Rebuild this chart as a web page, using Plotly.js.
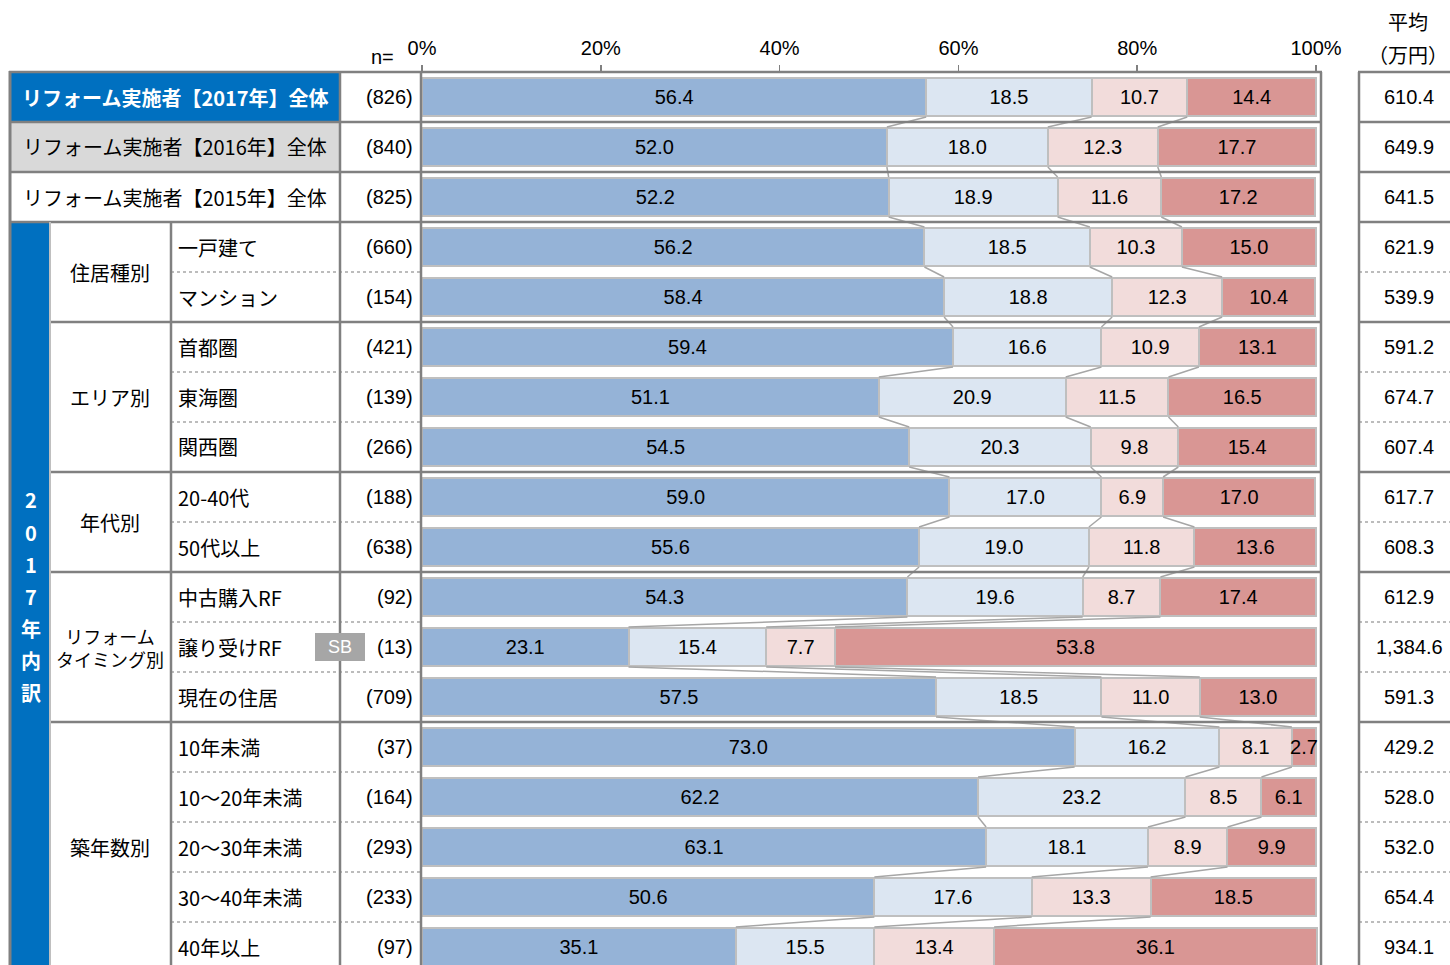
<!DOCTYPE html>
<html>
<head>
<meta charset="utf-8">
<script src="https://cdn.plot.ly/plotly-3.0.1.min.js"></script>
<style>html,body{margin:0;padding:0;background:#fff;}#chart{width:1450px;height:965px;}</style>
</head>
<body>
<div id="chart"></div>
<script>
// ---- data ----
const rowLabels = ['リフォーム実施者【2017年】全体','リフォーム実施者【2016年】全体','リフォーム実施者【2015年】全体',
  '一戸建て','マンション','首都圏','東海圏','関西圏','20-40代','50代以上','中古購入RF','譲り受けRF','現在の住居',
  '10年未満','10～20年未満','20～30年未満','30～40年未満','40年以上'];
const nValues = ['(826)','(840)','(825)','(660)','(154)','(421)','(139)','(266)','(188)','(638)','(92)','(13)','(709)','(37)','(164)','(293)','(233)','(97)'];
const seg1 = [56.4,52.0,52.2,56.2,58.4,59.4,51.1,54.5,59.0,55.6,54.3,23.1,57.5,73.0,62.2,63.1,50.6,35.1];
const seg2 = [18.5,18.0,18.9,18.5,18.8,16.6,20.9,20.3,17.0,19.0,19.6,15.4,18.5,16.2,23.2,18.1,17.6,15.5];
const seg3 = [10.7,12.3,11.6,10.3,12.3,10.9,11.5,9.8,6.9,11.8,8.7,7.7,11.0,8.1,8.5,8.9,13.3,13.4];
const seg4 = [14.4,17.7,17.2,15.0,10.4,13.1,16.5,15.4,17.0,13.6,17.4,53.8,13.0,2.7,6.1,9.9,18.5,36.1];
const avgValues = ['610.4','649.9','641.5','621.9','539.9','591.2','674.7','607.4','617.7','608.3','612.9','1,384.6','591.3','429.2','528.0','532.0','654.4','934.1'];
const groupLabels = ['住居種別','エリア別','年代別','リフォーム<br>タイミング別','築年数別'];
const groupRows = [[3,4],[5,7],[8,9],[10,12],[13,17]];
const tickVals = [0,20,40,60,80,100];
const tickText = ['0%','20%','40%','60%','80%','100%'];
const verticalTitle = ['2','0','1','7','年','内','訳'];

// ---- layout helpers ----
const W = 1450, H = 965;
const X = x => x / W;
const Y = y => 1 - y / H;
const ROW_TOP = 72, ROW_H = 50;
const rowY = i => ROW_TOP + ROW_H * i + ROW_H / 2;
const BAR_W = 0.76;
const X0 = 422, PX_PER = 8.94, XMAX = 100.5;
const rows = rowLabels.map((_, i) => i);
const segs = [seg1, seg2, seg3, seg4];
const colors = ['#95B3D7', '#DCE6F2', '#F2DCDB', '#D99694'];
const NUMF = 'Liberation Sans, Arial, sans-serif';
const JPF = 'Noto Sans CJK JP, sans-serif';

const traces = [];
segs.forEach((s, k) => {
  traces.push({
    type: 'bar', orientation: 'h', y: rows, x: s, width: BAR_W,
    marker: {color: colors[k], line: {color: '#BFBFBF', width: 2}},
    text: s.map(v => v.toFixed(1)), textposition: 'inside', insidetextanchor: 'middle',
    textangle: 0, constraintext: 'none',
    textfont: {family: NUMF, size: 20, color: '#000'},
    hoverinfo: 'skip', showlegend: false, cliponaxis: false
  });
});
// connector lines between consecutive bars
const cxs = [], cys = [];
for (let i = 0; i < rows.length - 1; i++) {
  for (let k = 0; k < 3; k++) {
    let a = 0, b = 0;
    for (let j = 0; j <= k; j++) { a += segs[j][i]; b += segs[j][i + 1]; }
    cxs.push(a, b, null);
    cys.push(i + BAR_W / 2 + 0.02, i + 1 - BAR_W / 2 - 0.02, null);
  }
}
traces.push({type: 'scatter', mode: 'lines', x: cxs, y: cys, line: {color: '#A6A6A6', width: 1.5},
  hoverinfo: 'skip', showlegend: false, cliponaxis: false});

// ---- shapes ----
const shapes = [];
const rect = (x0, y0, x1, y1, fill) => shapes.push({type: 'rect', xref: 'paper', yref: 'paper',
  x0: X(x0), x1: X(x1), y0: Y(y0), y1: Y(y1), fillcolor: fill, line: {width: 0}, layer: 'below'});
const line = (x0, y0, x1, y1, w, dash, color) => shapes.push({type: 'line', xref: 'paper', yref: 'paper',
  x0: X(x0), x1: X(x1), y0: Y(y0), y1: Y(y1), line: {color: color || '#808080', width: w, dash: dash || 'solid'}});

rect(10, 72, 340, 122, '#0070C0');
rect(10, 122, 340, 172, '#D9D9D9');
rect(10, 222, 50, 972, '#0070C0');

const thickK = [0, 1, 2, 3, 5, 8, 10, 13];
for (let k = 0; k <= 17; k++) {
  const y = ROW_TOP + ROW_H * k;
  if (thickK.includes(k)) {
    line(k <= 3 ? 9 : 50, y, 1322, y, 2.5);
    line(1358, y, 1450, y, 2.5);
  } else {
    line(171, y, 421, y, 1.5, 'dot', '#A6A6A6');
    line(1359, y, 1450, y, 1.5, 'dot', '#A6A6A6');
  }
}
line(10, 71, 10, 965, 3);
line(50, 222, 50, 965, 2, 'solid', '#BFBFBF');
line(171, 222, 171, 965, 2.5);
line(340, 72, 340, 965, 2.5);
line(421, 72, 421, 965, 2.5);
line(1321, 72, 1321, 965, 2.5);
line(1359, 72, 1359, 965, 2.5);
// SB badge
shapes.push({type: 'rect', xref: 'paper', yref: 'paper', x0: X(315), x1: X(365), y0: Y(633), y1: Y(661),
  fillcolor: '#A6A6A6', line: {width: 0}, layer: 'above'});

// ---- annotations ----
const ann = [];
const txt = (x, y, text, opts) => ann.push(Object.assign({xref: 'paper', yref: 'paper', x: X(x), y: Y(y),
  text: text, showarrow: false, xanchor: 'center', yanchor: 'middle',
  font: {family: JPF, size: 20, color: '#000'}}, opts || {}));

rowLabels.forEach((lab, i) => {
  if (i === 0) txt(175, rowY(i), '<b>' + lab + '</b>', {font: {family: JPF, size: 20, color: '#fff'}});
  else if (i < 3) txt(175, rowY(i), lab);
  else txt(176, rowY(i), lab, {xanchor: 'left'});
  txt(415, rowY(i), nValues[i], {xanchor: 'right', font: {family: NUMF, size: 20, color: '#000'}});
  txt(1409, rowY(i), avgValues[i], {font: {family: NUMF, size: 20, color: '#000'}});
});
groupLabels.forEach((g, j) => {
  const [a, b] = groupRows[j];
  const opts = j === 3 ? {font: {family: JPF, size: 18, color: '#000'}} : {};
  txt(110, (rowY(a) + rowY(b)) / 2, g, opts);
});
verticalTitle.forEach((c, i) => {
  txt(31, 500 + 32 * i, '<b>' + c + '</b>', {font: {family: JPF, size: 20, color: '#fff'}});
});
txt(340, 647, 'SB', {font: {family: NUMF, size: 18, color: '#fff'}});
txt(382, 57, 'n=', {font: {family: NUMF, size: 20, color: '#000'}});
txt(1408, 22, '平均');
txt(1408, 55, '（万円）');

const layout = {
  width: W, height: H,
  margin: {l: 0, r: 0, t: 0, b: 0},
  paper_bgcolor: '#fff', plot_bgcolor: 'rgba(0,0,0,0)',
  barmode: 'stack', showlegend: false,
  xaxis: {domain: [X(X0), X(X0 + PX_PER * XMAX)], range: [0, XMAX], side: 'top', tickvals: tickVals, ticktext: tickText,
    ticks: 'outside', ticklen: 6, tickcolor: '#808080', tickwidth: 1.5, showgrid: false, zeroline: false,
    showline: false, tickfont: {family: NUMF, size: 20, color: '#000'}, ticklabelstandoff: 2, fixedrange: true},
  yaxis: {domain: [0, Y(72)], range: [-0.5 + (H - 72) / ROW_H, -0.5], visible: false, fixedrange: true},
  shapes: shapes,
  annotations: ann
};
Plotly.newPlot('chart', traces, layout, {staticPlot: true});
</script>
</body>
</html>
